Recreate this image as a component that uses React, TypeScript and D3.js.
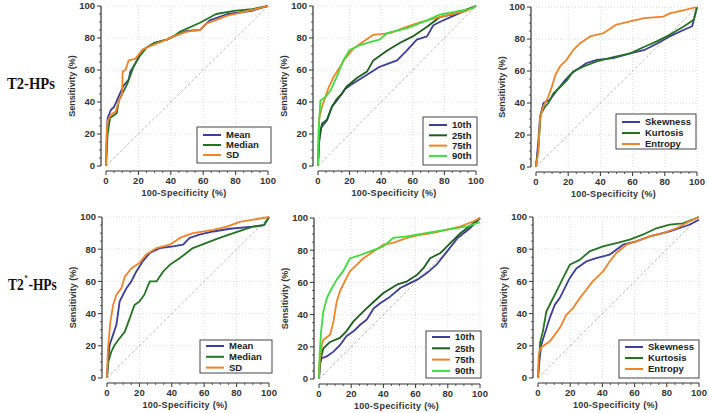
import * as d3 from "d3";

type Pt = [number, number];

// ---- ROC data, [100-specificity, sensitivity] ----
// T2-HPs
const t2Mean: Pt[] = [[0, 0], [0.5, 20], [1, 30], [3, 35], [5, 37], [7.6, 43], [10.7, 50], [14, 54], [15, 59], [18, 64], [22, 72], [30, 77], [37.5, 79], [41.6, 81], [50, 84.5], [58, 85], [64, 91], [75, 95], [90, 97], [100, 100]];
const t2Median: Pt[] = [[0, 0], [0.5, 10], [1, 20], [2.5, 30], [6.6, 33], [8, 41], [13, 51], [17, 62], [21, 69], [25, 74], [30, 77], [37.5, 79], [41.6, 81], [45.8, 84], [58, 89.5], [68, 95], [79, 97], [90, 98], [100, 100]];
const t2SD: Pt[] = [[0, 0], [0.5, 22], [1, 28], [3, 32], [6, 34], [8, 41], [10, 45], [10.3, 59], [12, 60], [14, 66], [18, 67], [23, 73], [30, 76], [37.5, 79], [41.6, 81], [50, 84], [58, 85], [62, 89], [75, 94], [84, 96], [100, 100]];

const t2P10: Pt[] = [[0, 0], [0.5, 10], [1, 20], [2, 24], [5.7, 28.6], [8.8, 37], [12, 41], [15, 45], [17, 48], [20.4, 50.5], [31, 57], [39, 62], [50, 66], [56, 72], [62.5, 79], [69, 81], [73, 88], [77, 90], [86, 94], [100, 100]];
const t2P25: Pt[] = [[0, 0], [0.5, 14], [2.5, 26.5], [5.7, 29], [8.8, 37], [12, 42], [15, 45], [18, 49.5], [24.6, 55], [31, 59], [35, 66], [43.6, 72], [52, 77], [60, 81], [69, 87], [77, 93], [86, 95], [100, 100]];
const t2P75: Pt[] = [[0, 0], [0.5, 25], [0.8, 30], [2.5, 37], [4.6, 43], [6.7, 49], [10, 56], [14, 62], [17, 67], [22.5, 73.5], [29, 78], [35, 82], [45.7, 83], [56, 87], [65, 90], [77, 93], [94, 97], [100, 100]];
const t2P90: Pt[] = [[0, 0], [0.5, 24], [1.5, 41], [4.6, 43], [7.8, 47], [12, 56], [16, 66], [20, 72.5], [26.7, 75.6], [35, 78], [39, 79], [43.6, 83], [56, 86], [69, 91], [77, 94.6], [98, 98.5], [100, 100]];

const t2Skew: Pt[] = [[0, 0], [1.5, 16.7], [2.5, 31], [4.6, 40], [8.7, 42], [13, 48], [17, 53], [21, 57.5], [25, 60.7], [31.5, 65], [37.8, 67], [48, 68], [58.5, 71], [67, 73], [75, 77], [83, 81.6], [92, 85.8], [97, 88], [100, 100]];
const t2Kurt: Pt[] = [[0, 0], [1.5, 12.5], [2.9, 33], [5.6, 37.7], [7.7, 40], [10.8, 46], [15, 50], [19, 54], [23, 59.6], [29.5, 62.8], [37.8, 66], [48, 68.6], [58.5, 71], [67, 75], [75, 78.5], [83, 82.6], [92, 88], [98, 92], [100, 100]];
const t2Entropy: Pt[] = [[0, 0], [1.5, 10], [2.5, 31], [4.6, 38], [7.7, 44], [9.8, 50], [12, 57.5], [15, 63], [19, 67], [23, 73], [27, 77], [33.6, 81.6], [42, 83.7], [50, 89], [58.5, 91], [67, 93], [79, 94], [83, 96], [92, 98], [100, 100]];

// T2*-HPs
const t2sMean: Pt[] = [[0, 0], [0.6, 10], [1.6, 20.5], [3.7, 26.8], [5.8, 33], [7.8, 47.5], [9.9, 51.7], [12, 55.8], [15, 60], [18, 66], [22, 72.4], [26.4, 77.6], [32.6, 80.7], [40.8, 81.7], [47, 82.8], [51, 87], [57, 89], [65.6, 91], [75.9, 92.7], [90, 94], [97, 95], [100, 100]];
const t2sMedian: Pt[] = [[0, 0], [0.8, 10], [2.7, 16.4], [4.7, 20.5], [7.8, 24.7], [11, 28.8], [14, 37], [17, 45.4], [20, 47.5], [23, 51.7], [26.4, 60], [30.5, 60], [34.6, 66], [38.8, 70.3], [45, 74.5], [53, 80.7], [61, 83.8], [69.5, 87], [78, 90], [90, 94], [97, 95], [100, 100]];
const t2sSD: Pt[] = [[0, 0], [0.6, 18.5], [2, 34], [3.7, 45], [5.8, 51.7], [8.9, 55.8], [11, 63], [15, 68], [20, 71.4], [24, 76.5], [30.5, 80.7], [38.8, 82.8], [45, 87], [53, 90], [65.6, 92], [74, 94], [82, 97], [100, 100]];

const t2sP10: Pt[] = [[0, 0], [0.6, 9], [1.7, 13], [4.8, 14], [9, 17], [13, 21], [17, 26.5], [21.4, 29.6], [25.6, 33.7], [29.7, 37], [34, 44], [38, 47], [44, 51], [50.5, 56.5], [54.7, 58.6], [61, 61.7], [67, 65.8], [73, 71], [79.6, 79.3], [86, 87.6], [94, 93.8], [100, 100]];
const t2sP25: Pt[] = [[0, 0], [0.6, 11], [2.7, 19], [6.9, 23], [13, 25.5], [17, 29.6], [21.4, 35.8], [27.6, 42], [34, 48], [40, 53.4], [48.4, 58.6], [54.7, 60.7], [61, 64.8], [65, 69], [69, 75], [75.5, 78.3], [81.7, 84.5], [88, 90.7], [96, 96.9], [100, 100]];
const t2sP75: Pt[] = [[0, 0], [0.4, 11], [1.7, 21], [2.7, 24.4], [6.9, 27.5], [9, 35.8], [11, 48], [13, 54.5], [16, 60.7], [19.3, 67], [23.5, 71], [27.6, 75], [34, 79.3], [40, 83.4], [46, 84.5], [54.7, 87.6], [63, 89.6], [71, 90.7], [79.6, 92.8], [88, 94.8], [96, 98], [100, 100]];
const t2sP90: Pt[] = [[0, 0], [0.4, 15], [1.3, 29.6], [2.7, 42], [4.8, 50], [6.9, 54.5], [11, 61.7], [15, 67], [19.3, 75], [25.6, 77], [31.8, 79.3], [40, 82.4], [46, 87.6], [54.7, 88.6], [67, 90.7], [79.6, 92.8], [92, 94.8], [100, 97.5]];

const t2sSkew: Pt[] = [[0, 0], [0.6, 8], [2, 20.5], [4, 26.8], [7.2, 37], [10.4, 45.4], [13.5, 49.6], [17.6, 57.9], [19.7, 62], [23.8, 68], [30, 72.4], [36.2, 74.5], [44.5, 76.6], [52.8, 82.8], [61, 84.9], [69.4, 88], [81.8, 91], [94, 95.2], [100, 98.3]];
const t2sKurt: Pt[] = [[0, 0], [0.6, 10], [1.4, 22.6], [3, 28.8], [5.2, 41.3], [8.3, 47.5], [11.4, 53.7], [15.5, 62], [19.7, 70.3], [25.9, 73.4], [32, 78.6], [40.4, 81.7], [48.6, 83.8], [57, 85.9], [65, 89], [73.5, 93], [81.8, 95.2], [90, 96], [100, 100]];
const t2sEntropy: Pt[] = [[0, 0], [0.4, 14.3], [1.4, 18.5], [4, 20.5], [7.2, 22.6], [10.4, 26.8], [13.5, 31], [17.6, 39.2], [21.7, 43.4], [25.9, 49.6], [30, 54.8], [34, 60], [40.4, 66.2], [44.5, 72.4], [48.6, 77.6], [54.9, 82.8], [61, 84.9], [69.4, 88], [77.6, 90], [86, 93], [94, 97.3], [100, 100]];

const majorTicks = [0, 20, 40, 60, 80, 100];
const gridTicks = [20, 40, 60, 80, 100];

const BLUE = "#3b3f96";
const GREEN = "#247424";
const DKGREEN = "#1d5e1d";
const ORANGE = "#ef8328";
const LIME = "#3fdc3f";

type Series = { name: string; color: string; data: Pt[] };
type PanelCfg = {
  x0: number; x1: number; y0: number; y1: number;
  legend: { x: number; y: number; w: number; h: number; row0: number; step: number };
  series: Series[];
};

const panels: PanelCfg[] = [
  { x0: 106, x1: 268, y0: 166, y1: 6,
    legend: { x: 197, y: 127, w: 74, h: 36, row0: 135, step: 10 },
    series: [{ name: "Mean", color: BLUE, data: t2Mean }, { name: "Median", color: GREEN, data: t2Median }, { name: "SD", color: ORANGE, data: t2SD }] },
  { x0: 318, x1: 476, y0: 166, y1: 6,
    legend: { x: 423, y: 117, w: 54, h: 48, row0: 125, step: 10.3 },
    series: [{ name: "10th", color: BLUE, data: t2P10 }, { name: "25th", color: DKGREEN, data: t2P25 }, { name: "75th", color: ORANGE, data: t2P75 }, { name: "90th", color: LIME, data: t2P90 }] },
  { x0: 536, x1: 697, y0: 167, y1: 7,
    legend: { x: 616, y: 114, w: 80, h: 35, row0: 122, step: 11 },
    series: [{ name: "Skewness", color: BLUE, data: t2Skew }, { name: "Kurtosis", color: GREEN, data: t2Kurt }, { name: "Entropy", color: ORANGE, data: t2Entropy }] },
  { x0: 107, x1: 269, y0: 378, y1: 217,
    legend: { x: 200, y: 340, w: 72, h: 33, row0: 346, step: 10.8 },
    series: [{ name: "Mean", color: BLUE, data: t2sMean }, { name: "Median", color: GREEN, data: t2sMedian }, { name: "SD", color: ORANGE, data: t2sSD }] },
  { x0: 319, x1: 480, y0: 379, y1: 218,
    legend: { x: 426, y: 331, w: 55, h: 47, row0: 337, step: 11.3 },
    series: [{ name: "10th", color: BLUE, data: t2sP10 }, { name: "25th", color: DKGREEN, data: t2sP25 }, { name: "75th", color: ORANGE, data: t2sP75 }, { name: "90th", color: LIME, data: t2sP90 }] },
  { x0: 538, x1: 699, y0: 378, y1: 217,
    legend: { x: 619, y: 340, w: 80, h: 38, row0: 347, step: 11 },
    series: [{ name: "Skewness", color: BLUE, data: t2sSkew }, { name: "Kurtosis", color: GREEN, data: t2sKurt }, { name: "Entropy", color: ORANGE, data: t2sEntropy }] },
];

const FONT = "Liberation Sans, Arial, sans-serif";
const SERIF = "Liberation Serif, Times New Roman, serif";

function Panel({ cfg }: { cfg: PanelCfg }) {
  const x = d3.scaleLinear().domain([0, 100]).range([cfg.x0, cfg.x1]);
  const y = d3.scaleLinear().domain([0, 100]).range([cfg.y0, cfg.y1]);
  const line = d3.line<Pt>().x((d) => x(d[0])).y((d) => y(d[1]));
  const axX = cfg.x0 - 5; // left axis sits a little off the plot
  const axY = cfg.y0 + 5; // bottom axis too
  const minor = d3.range(0, 101, 5).filter((v) => v % 20 !== 0);
  const lg = cfg.legend;

  return (
    <g>
      {/* grid */}
      {gridTicks.map((t) => (
        <g key={"g" + t}>
          <line x1={x(t)} x2={x(t)} y1={y(0)} y2={y(100)} stroke="#cfcfcf" strokeWidth={0.8} strokeDasharray="1,2" />
          <line x1={x(0)} x2={x(100)} y1={y(t)} y2={y(t)} stroke="#cfcfcf" strokeWidth={0.8} strokeDasharray="1,2" />
        </g>
      ))}
      {/* chance line */}
      <line x1={x(0)} y1={y(0)} x2={x(100)} y2={y(100)} stroke="#a8a8a8" strokeWidth={0.8} strokeDasharray="3,2" />

      {/* left axis */}
      <line x1={axX} x2={axX} y1={y(100)} y2={y(0)} stroke="#333" strokeWidth={1.2} />
      {majorTicks.map((t) => (
        <g key={"yt" + t}>
          <line x1={axX - 4} x2={axX} y1={y(t)} y2={y(t)} stroke="#333" strokeWidth={1} />
          <text x={axX - 6} y={y(t)} dy="0.35em" textAnchor="end" fontFamily={FONT} fontWeight="bold" fontSize={9.5} fill="#333">{t}</text>
        </g>
      ))}
      {minor.map((t) => (
        <line key={"ym" + t} x1={axX - 2} x2={axX} y1={y(t)} y2={y(t)} stroke="#333" strokeWidth={0.8} />
      ))}

      {/* bottom axis */}
      <line x1={x(0)} x2={x(100)} y1={axY} y2={axY} stroke="#333" strokeWidth={1.2} />
      {majorTicks.map((t) => (
        <g key={"xt" + t}>
          <line x1={x(t)} x2={x(t)} y1={axY} y2={axY + 4} stroke="#333" strokeWidth={1} />
          <text x={x(t)} y={axY + 13} textAnchor="middle" fontFamily={FONT} fontWeight="bold" fontSize={9.5} fill="#333">{t}</text>
        </g>
      ))}
      {minor.map((t) => (
        <line key={"xm" + t} x1={x(t)} x2={x(t)} y1={axY} y2={axY + 2} stroke="#333" strokeWidth={0.8} />
      ))}

      {/* axis titles */}
      <text x={(cfg.x0 + cfg.x1) / 2 - 3} y={cfg.y0 + 30} textAnchor="middle" fontFamily={FONT} fontWeight="bold" fontSize={9} fill="#333" letterSpacing={0.3}>100-Specificity (%)</text>
      <text transform={`translate(${cfg.x0 - 31},${(cfg.y0 + cfg.y1) / 2}) rotate(-90)`} textAnchor="middle" fontFamily={FONT} fontWeight="bold" fontSize={9} fill="#333">Sensitivity (%)</text>

      {/* curves */}
      {cfg.series.map((s) => (
        <path key={s.name} d={line(s.data) || ""} fill="none" stroke={s.color} strokeWidth={1.8} strokeLinejoin="round" />
      ))}

      {/* legend */}
      <rect x={lg.x} y={lg.y} width={lg.w} height={lg.h} fill="#fff" stroke="#444" strokeWidth={1} />
      {cfg.series.map((s, i) => (
        <g key={"l" + s.name}>
          <line x1={lg.x + 6} x2={lg.x + 24} y1={lg.row0 + i * lg.step} y2={lg.row0 + i * lg.step} stroke={s.color} strokeWidth={2} />
          <text x={lg.x + 29} y={lg.row0 + i * lg.step} dy="0.35em" fontFamily={FONT} fontWeight="bold" fontSize={9.5} fill="#222">{s.name}</text>
        </g>
      ))}
    </g>
  );
}

export default function App() {
  return (
    <svg width={709} height={413} style={{ position: "absolute", left: 0, top: 0, background: "#fff" }}>
      <rect width={709} height={413} fill="#fff" />
      {/* row labels are narrow in the source, so squeeze them horizontally */}
      <g transform="translate(7,88.5) scale(0.836,1)">
        <text x={0} y={0} fontFamily={SERIF} fontWeight="bold" fontSize={17.5} fill="#111">T2-HPs</text>
      </g>
      <g transform="translate(8,290) scale(0.77,1)">
        <text x={0} y={0} fontFamily={SERIF} fontWeight="bold" fontSize={17.5} fill="#111">T2</text>
        <text x={21.5} y={-9} fontFamily={SERIF} fontWeight="bold" fontSize={8} fill="#111">*</text>
        <text x={26.5} y={0} fontFamily={SERIF} fontWeight="bold" fontSize={17.5} fill="#111">-HPs</text>
      </g>
      {panels.map((p, i) => (
        <Panel key={i} cfg={p} />
      ))}
    </svg>
  );
}
